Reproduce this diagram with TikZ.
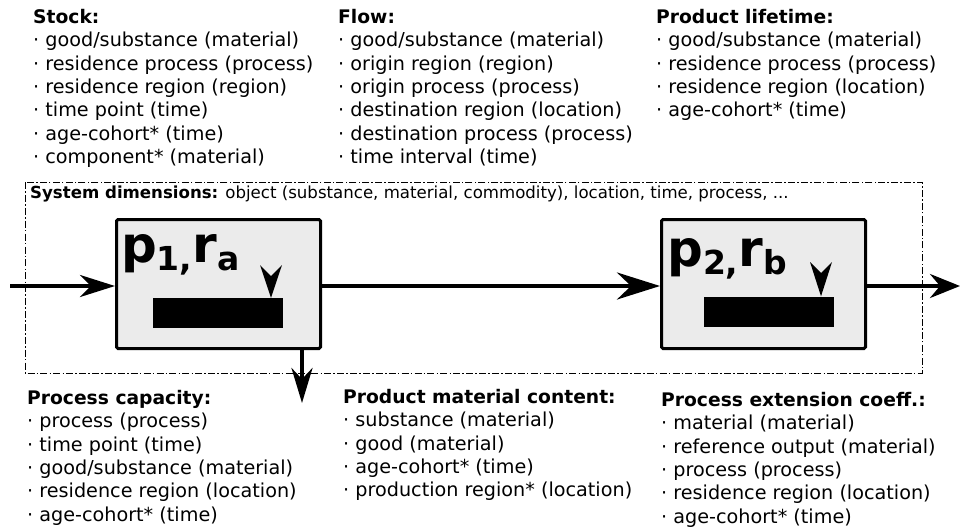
\documentclass[tikz,border=0pt]{standalone}
\usepackage{fontspec}
\setmainfont{DejaVu Sans}
\usetikzlibrary{arrows.meta}
\tikzset{
  txt/.style={anchor=north west, inner sep=0pt, align=left, font=\fontsize{19.2}{23.4}\selectfont},
  proc/.style={draw=black, line width=3pt, fill=black!8, rounded corners=1.5pt, minimum width=204pt, minimum height=129pt, inner sep=0pt},
  bar/.style={fill=black, draw=none, minimum width=130pt, minimum height=30pt, inner sep=0pt},
  lbl/.style={anchor=base west, inner sep=0pt, font=\bfseries\fontsize{50}{50}\selectfont},
  flow/.style={line width=4pt},
  sysbox/.style={line width=0.9pt, dash pattern=on 7pt off 2.2pt on 1.5pt off 2.2pt},
  tip/.style={fill=black},
}
\newcommand{\subs}[1]{\raisebox{-8pt}{\fontsize{33}{33}\selectfont #1}}
\newcommand{\ttl}[1]{\rule{0pt}{16pt}{\bfseries\fontsize{18.7}{23.4}\selectfont #1}}
\begin{document}
\begin{tikzpicture}[x=1pt, y=-1pt]
\useasboundingbox (0,0) rectangle (960,530);

% text blocks
\node[txt] (stock) at (33,7) {\ttl{Stock:}\\
· good/substance (material)\\
· residence process (process)\\
· residence region (region)\\
· time point (time)\\
· age-cohort* (time)\\
· component* (material)};

\node[txt] (flowt) at (338,7) {\ttl{Flow:}\\
· good/substance (material)\\
· origin region (region)\\
· origin process (process)\\
· destination region (location)\\
· destination process (process)\\
· time interval (time)};

\node[txt] (life) at (656,7) {\ttl{Product lifetime:}\\
· good/substance (material)\\
· residence process (process)\\
· residence region (location)\\
· age-cohort* (time)};

\node[txt] (cap) at (27,388) {\ttl{Process capacity:}\\
· process (process)\\
· time point (time)\\
· good/substance (material)\\
· residence region (location)\\
· age-cohort* (time)};

\node[txt] (pmc) at (343,387) {\ttl{Product material content:}\\
· substance (material)\\
· good (material)\\
· age-cohort* (time)\\
· production region* (location)};

\node[txt] (pec) at (661,390) {\ttl{Process extension coeff.:}\\
· material (material)\\
· reference output (material)\\
· process (process)\\
· residence region (location)\\
· age-cohort* (time)};

% system box
\draw[sysbox] (25,182) rectangle (922,373);
\node[anchor=base west, inner sep=0pt, font=\fontsize{16.6}{19}\selectfont] (sys) at (30,198)
  {\textbf{System dimensions:} object (substance, material, commodity), location, time, process, ...};

% processes
\node[proc] (p1) at (218.5,284) {};
\node[proc] (p2) at (763.5,284) {};
\node[bar] (b1) at (218,313) {};
\node[bar] (b2) at (769,311.5) {};
\node[lbl] (l1) at (121,262) {p\subs{1,}r\subs{a}};
\node[lbl] (l2) at (667,266) {p\subs{2,}r\subs{b}};

% small arrowheads
\coordinate (t1) at (271,265);
\coordinate (t2) at (821,262);
\fill[tip] (t1) ++(-11,0) -- ++(11,11) -- ++(11,-11) -- (t1 |- b1.north) -- cycle;
\fill[tip] (t2) ++(-11,0) -- ++(11,11) -- ++(11,-11) -- (t2 |- b2.north) -- cycle;

% flows
\coordinate (in) at (10,286);
\coordinate (out) at (960,286);
\coordinate (dn0) at (302,350);
\coordinate (dn1) at (302,403);
\draw[flow, -{Stealth[length=35pt, width=22pt, inset=11pt]}] (in) -- (in -| p1.west);
\draw[flow, -{Stealth[length=43pt, width=27pt, inset=14pt]}] (in -| p1.east) -- (in -| p2.west);
\draw[flow, -{Stealth[length=30pt, width=24pt, inset=10pt]}] (in -| p2.east) -- (out);
\draw[flow, -{Stealth[length=35pt, width=21pt, inset=11pt]}] (dn0) -- (dn1);
\end{tikzpicture}
\end{document}
